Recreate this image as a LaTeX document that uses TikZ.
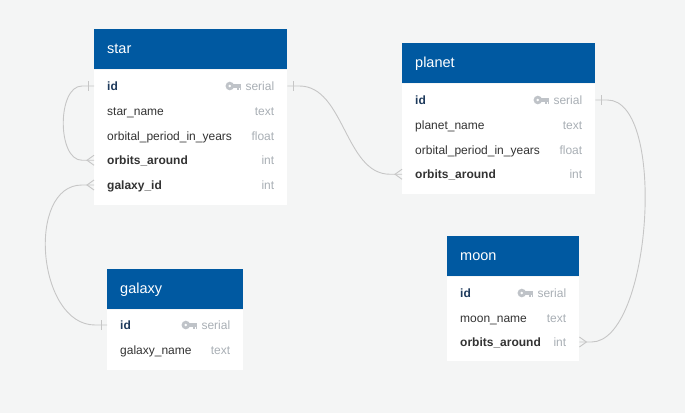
\documentclass[tikz,border=0pt]{standalone}
\usepackage{fontspec}
\setmainfont{Liberation Sans}

\definecolor{headblue}{HTML}{0059A1}
\definecolor{canvas}{HTML}{F4F5F5}
\definecolor{fieldtxt}{HTML}{333333}
\definecolor{idtxt}{HTML}{1E3A5C}
\definecolor{typetxt}{HTML}{A9AFB5}
\definecolor{keygray}{HTML}{BFC3C8}
\definecolor{linegray}{HTML}{C6C6C6}

\tikzstyle{head} = [fill=headblue, text=white, rectangle, anchor=north west, inner xsep=13pt, inner ysep=0pt, minimum height=40pt, text height=11pt, text depth=3pt, align=left, font=\fontsize{14.5}{17}\selectfont]
\tikzstyle{body} = [fill=white, rectangle, anchor=north west, inner sep=0pt]
\tikzstyle{row} = [anchor=west, inner xsep=13pt, inner ysep=0pt, text height=11pt, text depth=2pt, text=fieldtxt, font=\fontsize{12}{14}\selectfont]
\tikzstyle{type} = [anchor=east, inner sep=0pt, text height=11pt, text depth=2pt, text=typetxt, font=\fontsize{12}{14}\selectfont]
\tikzstyle{conn} = [draw=linegray, line width=0.9pt]

\tikzset{
  keyicon/.pic={
    \fill[keygray, even odd rule] (0,0) circle (4.3pt) (0,0) circle (1.6pt);
    \fill[keygray] (3,-1.6) rectangle (11.5,1.6);
    \fill[keygray] (7.6,1.6) rectangle (9.2,3.8);
    \fill[keygray] (10,1.6) rectangle (11.5,3.8);
  },
  onemark/.pic={\draw[conn] (6,-5) -- (6,5);},
  manymark/.pic={\draw[conn] (0,-5) -- (7,0) -- (0,5);}
}

\begin{document}
\begin{tikzpicture}[x=1pt,y=-1pt]
            %
            % canvas
            \path[use as bounding box, fill=canvas] (0,0) rectangle (685,413);
            %
            % star table
            \node [head, text width=167pt] (star) at (94,29) {star};
            \node [body, minimum width=193pt, minimum height=135pt] (starbody) at (star.south west) {};
            \node [row, text=idtxt] (starid) at (94,86) {\textbf{id}};
            \node [row] (starname) at (94,110.75) {star\_name};
            \node [row] (starperiod) at (94,135.5) {orbital\_period\_in\_years};
            \node [row] (starorb) at (94,160.25) {\textbf{orbits\_around}};
            \node [row] (stargal) at (94,185) {\textbf{galaxy\_id}};
            \node [type] (staridt) at ([xshift=-13pt]starbody.east |- starid) {serial};
            \node [type] (starnamet) at ([xshift=-13pt]starbody.east |- starname) {text};
            \node [type] (starperiodt) at ([xshift=-13pt]starbody.east |- starperiod) {float};
            \node [type] (starorbt) at ([xshift=-13pt]starbody.east |- starorb) {int};
            \node [type] (stargalt) at ([xshift=-13pt]starbody.east |- stargal) {int};
            \pic at ([xshift=-15.5pt]staridt.west) {keyicon};
            %
            % planet table
            \node [head, text width=167pt] (planet) at (402,43) {planet};
            \node [body, minimum width=193pt, minimum height=110pt] (planetbody) at (planet.south west) {};
            \node [row, text=idtxt] (planetid) at (402,100) {\textbf{id}};
            \node [row] (planetname) at (402,124.75) {planet\_name};
            \node [row] (planetperiod) at (402,149.5) {orbital\_period\_in\_years};
            \node [row] (planetorb) at (402,174.25) {\textbf{orbits\_around}};
            \node [type] (planetidt) at ([xshift=-13pt]planetbody.east |- planetid) {serial};
            \node [type] (planetnamet) at ([xshift=-13pt]planetbody.east |- planetname) {text};
            \node [type] (planetperiodt) at ([xshift=-13pt]planetbody.east |- planetperiod) {float};
            \node [type] (planetorbt) at ([xshift=-13pt]planetbody.east |- planetorb) {int};
            \pic at ([xshift=-15.5pt]planetidt.west) {keyicon};
            %
            % galaxy table
            \node [head, text width=110pt] (galaxy) at (107,269) {galaxy};
            \node [body, minimum width=136pt, minimum height=60pt] (galaxybody) at (galaxy.south west) {};
            \node [row, text=idtxt] (galaxyid) at (107,325) {\textbf{id}};
            \node [row] (galaxyname) at (107,350) {galaxy\_name};
            \node [type] (galaxyidt) at ([xshift=-13pt]galaxybody.east |- galaxyid) {serial};
            \node [type] (galaxynamet) at ([xshift=-13pt]galaxybody.east |- galaxyname) {text};
            \pic at ([xshift=-15.5pt]galaxyidt.west) {keyicon};
            %
            % moon table
            \node [head, text width=106pt] (moon) at (447,236) {moon};
            \node [body, minimum width=132pt, minimum height=84pt] (moonbody) at (moon.south west) {};
            \node [row, text=idtxt] (moonid) at (447,293) {\textbf{id}};
            \node [row] (moonname) at (447,317.5) {moon\_name};
            \node [row] (moonorb) at (447,342) {\textbf{orbits\_around}};
            \node [type] (moonidt) at ([xshift=-13pt]moonbody.east |- moonid) {serial};
            \node [type] (moonnamet) at ([xshift=-13pt]moonbody.east |- moonname) {text};
            \node [type] (moonorbt) at ([xshift=-13pt]moonbody.east |- moonorb) {int};
            \pic at ([xshift=-15.5pt]moonidt.west) {keyicon};
            %
            % relations: star.id -> star.orbits_around
            \draw [conn] (starid.west) -- ++(-12,0) .. controls +(-25,0) and +(-25,0) .. ([xshift=-12pt]starorb.west) -- (starorb.west);
            \pic [xscale=-1] at (starid.west) {onemark};
            \pic [xscale=-1] at (starorb.west) {manymark};
            %
            % star.galaxy_id -> galaxy.id
            \draw [conn] (stargal.west) -- ++(-12,0) .. controls +(-56,0) and +(-58,0) .. ([xshift=-12pt]galaxyid.west) -- (galaxyid.west);
            \pic [xscale=-1] at (stargal.west) {manymark};
            \pic [xscale=-1] at (galaxyid.west) {onemark};
            %
            % star.id -> planet.orbits_around
            \draw [conn] (starbody.east |- starid) -- ++(12,0) .. controls +(45,0) and +(-45,0) .. ([xshift=-12pt]planetorb.west) -- (planetorb.west);
            \pic at (starbody.east |- starid) {onemark};
            \pic [xscale=-1] at (planetorb.west) {manymark};
            %
            % planet.id -> moon.orbits_around
            \draw [conn] (planetbody.east |- planetid) -- ++(12,0) .. controls +(60,0) and +(60,0) .. ([xshift=12pt]moonbody.east |- moonorb) -- (moonbody.east |- moonorb);
            \pic at (planetbody.east |- planetid) {onemark};
            \pic at (moonbody.east |- moonorb) {manymark};
            %
\end{tikzpicture}
\end{document}
